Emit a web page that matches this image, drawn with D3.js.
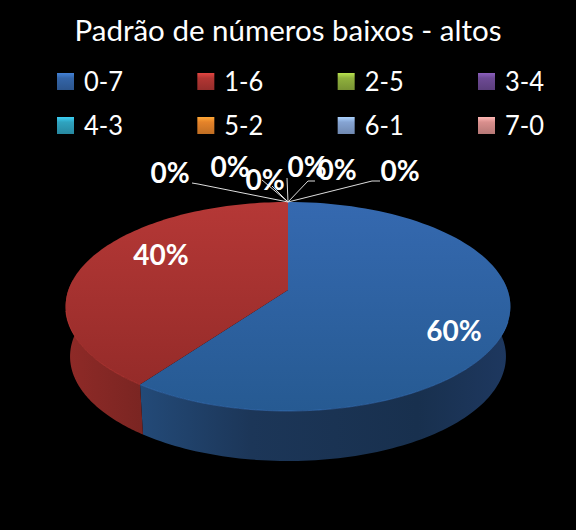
<!DOCTYPE html>
<html>
<head>
<meta charset="utf-8">
<script src="https://cdn.jsdelivr.net/npm/d3@7"></script>
<style>
html,body{margin:0;padding:0;background:#000;}
svg{display:block;}
text{font-family:Lato,"Open Sans",sans-serif;fill:#fff;}
</style>
</head>
<body>
<div id="chart"></div>
<script>
var chartTitle = "Padrão de números baixos - altos";
var categories = ["0-7","1-6","2-5","3-4","4-3","5-2","6-1","7-0"];
var values = [60,40,0,0,0,0,0,0];
var colors = ["#3465a8","#b23633","#8fb03d","#6d4a94","#2fa3bf","#e5832a","#86a4d3","#d98f8d"];

var w = 576, h = 530;
var svg = d3.select("#chart").append("svg").attr("width",w).attr("height",h);
var defs = svg.append("defs");
svg.append("rect").attr("width",w).attr("height",h).attr("fill","#000");

svg.append("text").attr("x",288).attr("y",41).attr("text-anchor","middle")
   .attr("font-size",29).attr("textLength",427).attr("lengthAdjust","spacingAndGlyphs").text(chartTitle);

// legend, 4 columns 2 rows
var legendX = d3.scalePoint().domain([0,1,2,3]).range([57,478]);
var legendY = d3.scalePoint().domain([0,1]).range([81,125]);
categories.forEach(function(c,i){
	var col = i%4, row = Math.floor(i/4);
	var id = "leg"+i;
	var g = defs.append("linearGradient").attr("id",id).attr("x1",0).attr("x2",0).attr("y1",0).attr("y2",1);
	g.append("stop").attr("offset","0").attr("stop-color",d3.color(colors[i]).brighter(0.7));
	g.append("stop").attr("offset","0.3").attr("stop-color",colors[i]);
	g.append("stop").attr("offset","1").attr("stop-color",d3.color(colors[i]).darker(0.5));
	svg.append("rect").attr("x",legendX(col)).attr("y",legendY(row)-8)
	   .attr("width",17).attr("height",17).attr("fill","url(#"+id+")");
	svg.append("text").attr("x",legendX(col)+27).attr("y",legendY(row)+9.5)
	   .attr("font-size",27).attr("textLength",39).attr("lengthAdjust","spacingAndGlyphs").text(c);
});

// pie in perspective: disc point -> screen
var cx = 288, cy = 290, A = 101.9, B = 219.6, k = 0.1579, depth = 50;
function project(a,z){
	var u = Math.sin(a), v = -Math.cos(a);
	var p = 1-k*v;
	var shrink = 1-0.02*z;
	return [cx+B*u/p*shrink, cy+A*v/p+depth*z];
}
var line = d3.line();
var pie = d3.pie().sort(null).value(function(d){return d;});
var arcs = pie(values);
function arcPoints(s,e,z){
	return d3.range(0,101).map(function(i){ return project(s+(e-s)*i/100,z); });
}
function grad(id,x1,y1,x2,y2,stops){
	var g = defs.append("linearGradient").attr("id",id).attr("gradientUnits","userSpaceOnUse")
		.attr("x1",x1).attr("y1",y1).attr("x2",x2).attr("y2",y2);
	stops.forEach(function(s){ g.append("stop").attr("offset",s[0]).attr("stop-color",s[1]); });
}
grad("topBlue",0,202,0,411,[[0,"#3569b0"],[1,"#265a92"]]);
grad("topRed",0,202,0,385,[[0,"#b53836"],[1,"#952b29"]]);
grad("sideBlue",140,0,510,0,[[0,"#234a78"],[0.3,"#1c3658"],[0.75,"#18304e"],[1,"#1e3860"]]);
grad("sideRed",66,0,143,0,[[0,"#8f2a27"],[1,"#7a2522"]]);
var topFill = ["url(#topBlue)","url(#topRed)"], sideFill = ["url(#sideBlue)","url(#sideRed)"];

// side walls first, only the front half is visible
arcs.forEach(function(d,i){
	if(d.value==0) return;
	var s = Math.max(d.startAngle,Math.PI/2-0.1), e = Math.min(d.endAngle,3*Math.PI/2+0.1);
	var pts = arcPoints(s,e,0).concat(arcPoints(e,s,1));
	svg.append("path").attr("d",line(pts)+"Z").attr("fill",sideFill[i]);
});
arcs.forEach(function(d,i){
	if(d.value==0) return;
	var pts = [[cx,cy]].concat(arcPoints(d.startAngle,d.endAngle,0));
	svg.append("path").attr("d",line(pts)+"Z").attr("fill",topFill[i]);
	svg.append("path").attr("d",line(arcPoints(Math.max(d.startAngle,Math.PI/2+0.3),Math.min(d.endAngle,3*Math.PI/2-0.2),0)))
	   .attr("fill","none").attr("stroke",d3.color(colors[i]).brighter(0.5)).attr("stroke-opacity",0.5).attr("stroke-width",1);
});

// data labels, placed by hand like the original
var apex = project(0,0);
var labelPos = [[454,331],[161,255],[170,173],[230,167],[265,180],[307,167],[337,170],[400,171]];
var leaderEnd = [null,null,[[198,184],[192,183]],[[262,180]],[[272,186]],[[287,178]],[[308,181],[315,181]],[[372,181],[380,181]]];
arcs.forEach(function(d,i){
	if(leaderEnd[i]){
		svg.append("path").attr("d",line([apex].concat(leaderEnd[i])))
		   .attr("fill","none").attr("stroke","#ddd").attr("stroke-width",1);
	}
});
arcs.forEach(function(d,i){
	svg.append("text").attr("x",labelPos[i][0]).attr("y",labelPos[i][1]).attr("dy","0.35em")
	   .attr("text-anchor","middle").attr("font-size",28).attr("font-weight","bold")
	   .text(d.value+"%");
});
</script>
</body>
</html>
